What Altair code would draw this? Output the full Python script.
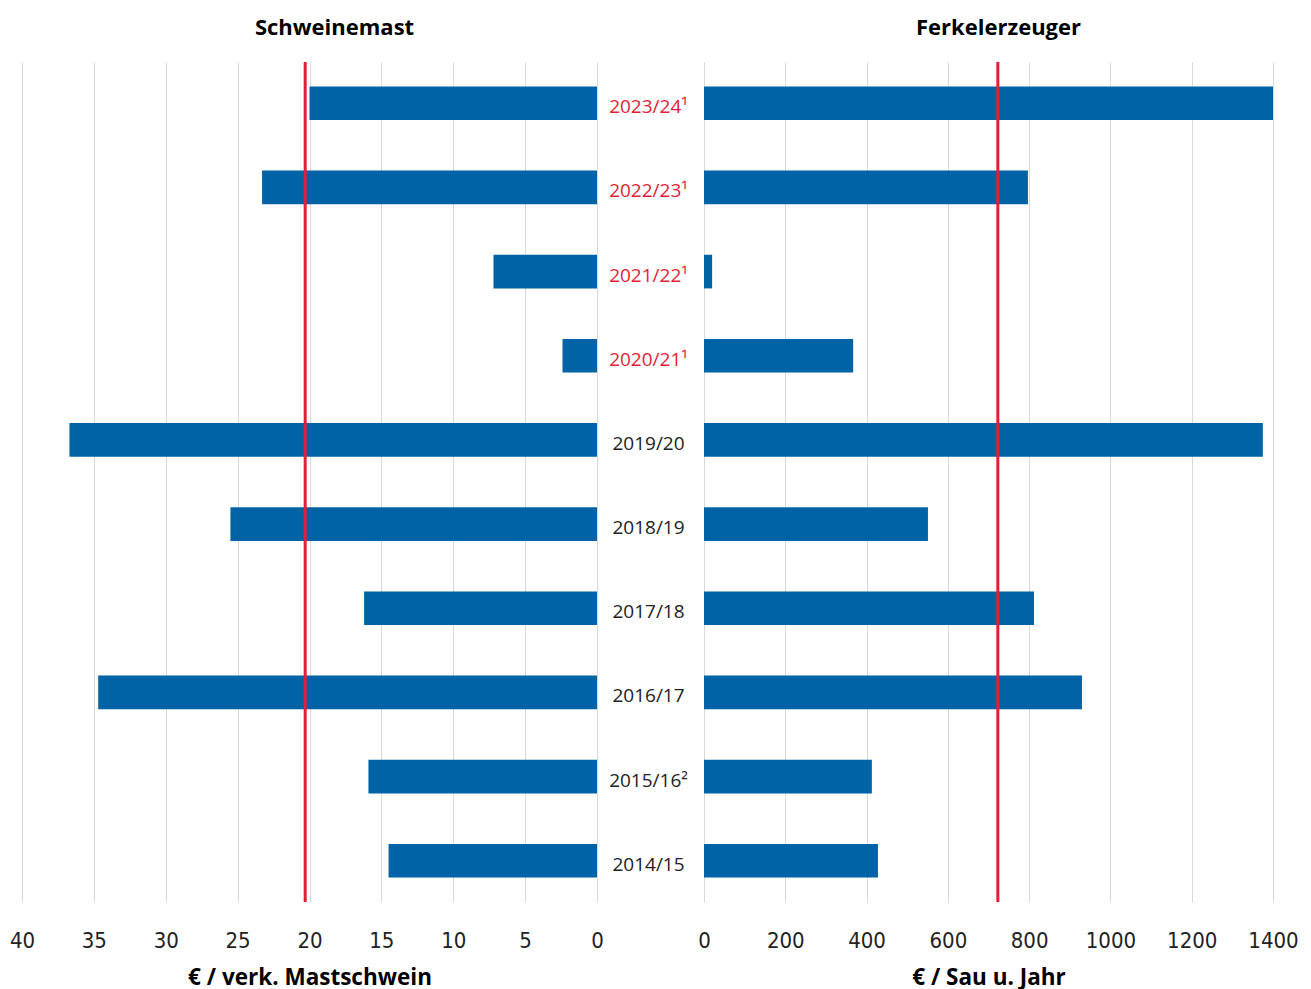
import altair as alt
import pandas as pd

years = ["2023/24¹", "2022/23¹", "2021/22¹", "2020/21¹", "2019/20",
         "2018/19", "2017/18", "2016/17", "2015/16²", "2014/15"]
mast = [20.0, 23.3, 7.2, 2.4, 36.7, 25.5, 16.2, 34.7, 15.9, 14.5]
ferkel = [1400, 797, 20, 367, 1375, 551, 812, 930, 413, 428]
mast_avg = [20.3]
ferkel_avg = [723]
mast_ticks = [0, 5, 10, 15, 20, 25, 30, 35, 40]
ferkel_ticks = [0, 200, 400, 600, 800, 1000, 1200, 1400]

df = pd.DataFrame({"Jahr": years, "Schweinemast": mast, "Ferkelerzeuger": ferkel})

BLUE = "#0063a6"
RED = "#e41e36"
TXT = "#222222"
H = 840
TICKFONT = "Liberation Sans Narrow, DejaVu Sans Condensed, sans-serif"

yscale = alt.Scale(domain=years, paddingInner=0.6, paddingOuter=0.29)


def xaxis(vals, title):
    return alt.Axis(values=vals, title=title, grid=True, gridColor="#d9d9d9",
                    domain=False, ticks=False, tickSize=0, labelPadding=28, format="d",
                    labelFont=TICKFONT, labelFontSize=22, labelColor=TXT,
                    titleFont="Open Sans", titleFontSize=22.5, titleFontWeight="bold",
                    titleColor="#000000", titlePadding=15, labelFlush=False)


mast_scale = alt.Scale(domain=[0, 40], reverse=True, nice=False)
ferkel_scale = alt.Scale(domain=[0, 1400], nice=False)

left_bars = alt.Chart(df).mark_bar(color=BLUE).encode(
    x=alt.X("Schweinemast:Q", scale=mast_scale,
            axis=xaxis(mast_ticks, "€ / verk. Mastschwein")),
    y=alt.Y("Jahr:N", scale=yscale, axis=None, sort=years),
)
left_rule = alt.Chart(pd.DataFrame({"v": mast_avg})).mark_rule(color=RED, strokeWidth=3).encode(
    x=alt.X("v:Q", scale=mast_scale, axis=xaxis(mast_ticks, "€ / verk. Mastschwein"))
)
left = alt.layer(left_bars, left_rule).properties(
    width=575, height=H,
    title=alt.TitleParams("Schweinemast", dx=25),
)

right_bars = alt.Chart(df).mark_bar(color=BLUE).encode(
    x=alt.X("Ferkelerzeuger:Q", scale=ferkel_scale,
            axis=xaxis(ferkel_ticks, "€ / Sau u. Jahr")),
    y=alt.Y("Jahr:N", scale=yscale, sort=years,
            axis=alt.Axis(orient="left", domain=False, ticks=False, grid=False, title=None,
                          labelAlign="center", labelPadding=56, labelOffset=4,
                          labelFont="Open Sans", labelFontSize=19, labelLimit=300,
                          labelColor={"condition": {"test": "indexof(datum.label, '¹') >= 0",
                                                    "value": RED},
                                      "value": TXT})),
)
right_rule = alt.Chart(pd.DataFrame({"v": ferkel_avg})).mark_rule(color=RED, strokeWidth=3).encode(
    x=alt.X("v:Q", scale=ferkel_scale, axis=xaxis(ferkel_ticks, "€ / Sau u. Jahr"))
)
right = alt.layer(right_bars, right_rule).properties(
    width=569, height=H,
    title=alt.TitleParams("Ferkelerzeuger", dx=10),
)

chart = alt.hconcat(left, right, spacing=107, bounds="flush").properties(
    padding={"left": 9, "top": 16, "right": 5, "bottom": 5}
).configure_view(stroke=None).configure_title(
    font="Open Sans", fontSize=22, fontWeight="bold", color="#000000", offset=21, anchor="middle"
)

chart.save("out.html", embed_options={"renderer": "svg", "actions": False})
